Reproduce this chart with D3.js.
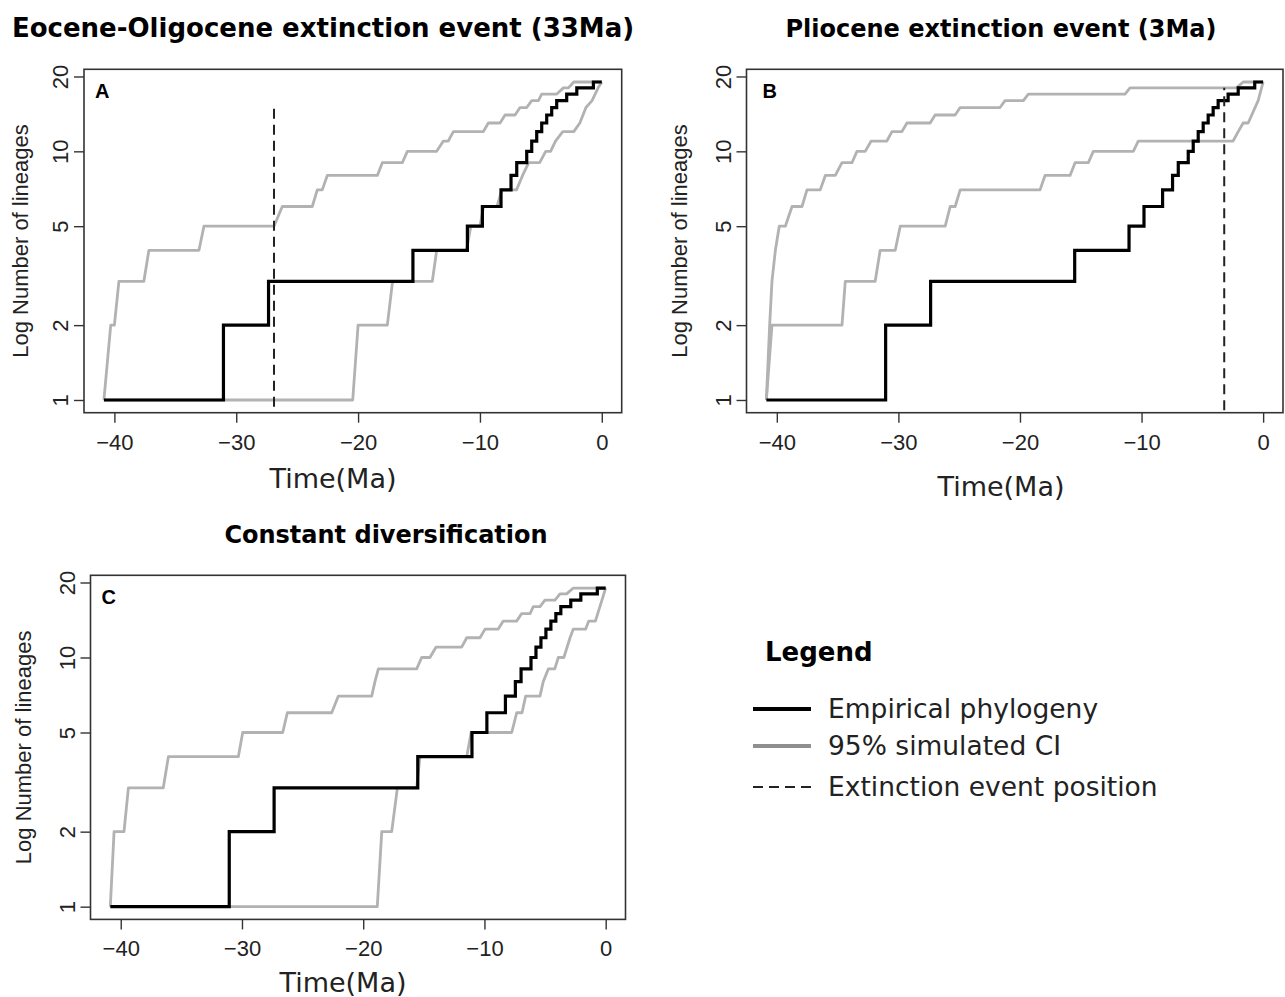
<!DOCTYPE html>
<html>
<head>
<meta charset="utf-8">
<script src="https://cdn.jsdelivr.net/npm/d3@7/dist/d3.min.js"></script>
<style>
  body { margin: 0; background: #fff; }
  svg { display: block; }
</style>
</head>
<body>
<svg id="chart" width="1285" height="997"></svg>
<script>
const W = 1285;
const H = 997;

// empirical lineage-through-time steps (same tree in every panel)
const empTimes = [-40.86, -31.05, -27.35, -15.5, -11.03, -9.8, -8.27, -7.45, -6.98, -6.16,
  -5.75, -5.34, -4.93, -4.52, -4.11, -3.7, -2.88, -2.05, -0.69, 0];
const empCounts = [1, 2, 3, 4, 5, 6, 7, 8, 9, 10, 11, 12, 13, 14, 15, 16, 17, 18, 19, 19];

// 95% simulated CI, [time, lineages]
const upperA = [[-40.86, 1], [-40.3, 2], [-40.0, 2], [-39.63, 3], [-37.58, 3], [-37.17, 4], [-33.06, 4], [-32.65, 5],
  [-26.9, 5], [-26.22, 6], [-23.76, 6], [-23.35, 7], [-22.94, 7], [-22.53, 8], [-18.42, 8], [-18.01, 9],
  [-16.37, 9], [-15.96, 10], [-13.55, 10], [-13.0, 11], [-12.6, 11], [-12.18, 12], [-9.72, 12], [-9.31, 13],
  [-8.35, 13], [-7.94, 14], [-7.12, 14], [-6.71, 15], [-6.16, 15], [-5.75, 16], [-5.2, 16], [-4.93, 17],
  [-3.69, 17], [-3.15, 18], [-2.74, 18], [-2.3, 19], [0, 19]];
const lowerA = [[-40.86, 1], [-20.44, 1], [-20.0, 2], [-17.6, 2], [-17.17, 3], [-13.91, 3], [-13.55, 4], [-11.1, 4],
  [-10.75, 5], [-10.0, 5], [-9.7, 6], [-8.6, 6], [-8.2, 7], [-7.0, 7], [-6.5, 8], [-6.0, 9], [-5.1, 9],
  [-4.6, 10], [-4.2, 10], [-3.8, 11], [-3.2, 12], [-2.3, 12], [-1.8, 13], [-1.3, 15], [-0.8, 16],
  [-0.3, 18], [0, 19]];

const upperB = [[-40.86, 1], [-40.59, 2], [-40.4, 3], [-40.12, 4], [-39.8, 5], [-39.3, 5], [-38.75, 6], [-37.93, 6],
  [-37.52, 7], [-36.43, 7], [-36.01, 8], [-35.19, 8], [-34.64, 9], [-33.82, 9], [-33.41, 10], [-32.73, 10],
  [-32.24, 11], [-30.95, 11], [-30.53, 12], [-29.71, 12], [-29.3, 13], [-27.39, 13], [-26.98, 14], [-25.33, 14],
  [-24.92, 15], [-21.64, 15], [-21.23, 16], [-19.72, 16], [-19.31, 17], [-11.36, 17], [-10.95, 18], [-2.19, 18],
  [-1.64, 19], [0, 19]];
const lowerB = [[-40.86, 1], [-40.4, 2], [-34.64, 2], [-34.37, 3], [-31.91, 3], [-31.5, 4], [-30.26, 4], [-29.85, 5],
  [-26.15, 5], [-25.74, 6], [-25.33, 6], [-24.92, 7], [-18.35, 7], [-17.94, 8], [-15.88, 8], [-15.47, 9],
  [-14.38, 9], [-13.97, 10], [-10.68, 10], [-10.27, 11], [-2.47, 11], [-2.05, 12], [-1.64, 13], [-1.23, 13],
  [-0.41, 16], [0, 19]];

const upperC = [[-40.86, 1], [-40.55, 2], [-39.73, 2], [-39.37, 3], [-36.49, 3], [-36.07, 4], [-30.3, 4], [-29.94, 5],
  [-26.64, 5], [-26.26, 6], [-22.6, 6], [-22.05, 7], [-19.3, 7], [-19.03, 8], [-18.75, 9], [-15.59, 9],
  [-15.18, 10], [-14.5, 10], [-14.0, 11], [-11.88, 11], [-11.46, 12], [-10.37, 12], [-9.95, 13], [-8.86, 13],
  [-8.45, 14], [-7.35, 14], [-6.93, 15], [-6.24, 15], [-5.97, 16], [-5.42, 16], [-5.01, 17], [-4.18, 17],
  [-3.77, 18], [-3.22, 18], [-2.67, 19], [0, 19]];
const lowerC = [[-40.86, 1], [-18.84, 1], [-18.47, 2], [-17.65, 2], [-17.18, 3], [-15.59, 3], [-15.32, 4], [-11.46, 4],
  [-11.1, 5], [-7.75, 5], [-7.34, 6], [-6.9, 6], [-6.6, 7], [-5.42, 7], [-5.15, 8], [-4.73, 9], [-4.2, 9],
  [-3.91, 10], [-3.45, 10], [-2.94, 12], [-2.67, 13], [-1.65, 13], [-1.4, 14], [-0.85, 14], [0, 19]];

// extinction event markers: [time, bottom, top]
const eventA = [-26.9, 0.94, 15.4];
const eventB = [-3.2, 0.91, 18];

const xTicks = [-40, -30, -20, -10, 0];
const yTicks = [1, 2, 5, 10, 20];

const titles = ['Eocene-Oligocene extinction event (33Ma)', 'Pliocene extinction event (3Ma)', 'Constant diversification'];
const legendLabels = ['Empirical phylogeny', '95% simulated CI', 'Extinction event position'];

const sansR = "'Liberation Sans', Arial, sans-serif";
const sansV = "'DejaVu Sans', Verdana, sans-serif";

const panels = [
  { tag: 'A', title: titles[0], titleSize: 26, upper: upperA, lower: lowerA, event: eventA,
    box: [84, 69.3, 621.7, 412.7], titleX: 323, titleY: 37, xlabX: 333, xlabY: 488, ylabX: 28, tagDx: 11 },
  { tag: 'B', title: titles[1], titleSize: 24, upper: upperB, lower: lowerB, event: eventB,
    box: [746.5, 69.3, 1283, 412.7], titleX: 1001, titleY: 37, xlabX: 1001, xlabY: 496, ylabX: 687, tagDx: 16 },
  { tag: 'C', title: titles[2], titleSize: 24, upper: upperC, lower: lowerC, event: null,
    box: [90.5, 575.3, 625.5, 919.4], titleX: 386, titleY: 543, xlabX: 343, xlabY: 992, ylabX: 31, tagDx: 11 }
];

const svg = d3.select('#chart');
svg.append('rect').attr('width', W).attr('height', H).attr('fill', '#fff');

const tMin = d3.min(empTimes), tMax = d3.max(empTimes);
const nMax = d3.max(empCounts);
const padX = (tMax - tMin) * 0.04;
const padY = Math.log10(nMax) * 0.04;

const grey = '#b2b2b2';

panels.forEach(p => {
  const [l, t, r, b] = p.box;
  const x = d3.scaleLinear().domain([tMin - padX, tMax + padX]).range([l, r]);
  const y = d3.scaleLog().domain([Math.pow(10, -padY), Math.pow(10, Math.log10(nMax) + padY)]).range([b, t]);

  const g = svg.append('g');

  // title
  g.append('text')
    .attr('x', p.titleX).attr('y', p.titleY)
    .attr('text-anchor', 'middle')
    .style('font-family', sansV)
    .style('font-weight', 'bold')
    .style('font-size', p.titleSize + 'px')
    .text(p.title);

  // axes
  const xAxis = g.append('g').attr('transform', `translate(0, ${b})`)
    .call(d3.axisBottom(x).tickValues(xTicks).tickSize(10).tickPadding(0).tickSizeOuter(0));
  xAxis.select('.domain').remove();
  xAxis.selectAll('line').attr('stroke', '#333').attr('stroke-width', 1.4);
  xAxis.selectAll('text')
    .attr('y', 37).attr('dy', 0)
    .attr('fill', '#222')
    .style('font-family', sansR)
    .style('font-size', '22px');

  const yAxis = g.append('g').attr('transform', `translate(${l}, 0)`)
    .call(d3.axisLeft(y).tickValues(yTicks).tickFormat(d3.format('d')).tickSize(10).tickSizeOuter(0));
  yAxis.select('.domain').remove();
  yAxis.selectAll('line').attr('stroke', '#333').attr('stroke-width', 1.4);
  yAxis.selectAll('text')
    .attr('x', 0).attr('dy', 0)
    .attr('text-anchor', 'middle')
    .attr('transform', 'translate(-16, 0) rotate(-90)')
    .attr('fill', '#222')
    .style('font-family', sansR)
    .style('font-size', '22px');

  // axis titles
  g.append('text')
    .attr('x', p.xlabX).attr('y', p.xlabY)
    .attr('text-anchor', 'middle')
    .attr('fill', '#222')
    .style('font-family', sansV)
    .style('font-size', '27px')
    .text('Time(Ma)');

  g.append('text')
    .attr('transform', `translate(${p.ylabX}, ${(t + b) / 2}) rotate(-90)`)
    .attr('text-anchor', 'middle')
    .attr('fill', '#222')
    .style('font-family', sansR)
    .style('font-size', '22px')
    .text('Log Number of lineages');

  // CI lines
  const ciLine = d3.line().x(d => x(d[0])).y(d => y(d[1]));
  [p.upper, p.lower].forEach(s => {
    g.append('path').datum(s)
      .attr('d', ciLine)
      .attr('fill', 'none')
      .attr('stroke', grey)
      .attr('stroke-width', 2.8)
      .attr('stroke-linejoin', 'round');
  });

  // empirical
  const emp = empTimes.map((d, i) => [d, empCounts[i]]);
  g.append('path').datum(emp)
    .attr('d', d3.line().x(d => x(d[0])).y(d => y(d[1])).curve(d3.curveStepAfter))
    .attr('fill', 'none')
    .attr('stroke', '#000')
    .attr('stroke-width', 3.2);

  // extinction event
  if (p.event) {
    g.append('line')
      .attr('x1', x(p.event[0])).attr('x2', x(p.event[0]))
      .attr('y1', y(p.event[1])).attr('y2', y(p.event[2]))
      .attr('stroke', '#222')
      .attr('stroke-width', 2)
      .attr('stroke-dasharray', '10,6');
  }

  // frame
  g.append('rect')
    .attr('x', l).attr('y', t).attr('width', r - l).attr('height', b - t)
    .attr('fill', 'none')
    .attr('stroke', '#333')
    .attr('stroke-width', 1.6);

  // panel tag
  g.append('text')
    .attr('x', l + p.tagDx).attr('y', t + 29)
    .style('font-family', sansR)
    .style('font-weight', 'bold')
    .style('font-size', '20px')
    .text(p.tag);
});

// legend
const legend = svg.append('g').attr('transform', 'translate(753, 0)');
legend.append('text')
  .attr('x', 12).attr('y', 661)
  .style('font-family', sansV)
  .style('font-weight', 'bold')
  .style('font-size', '26px')
  .text('Legend');

const legendStyles = [
  { stroke: '#000', width: 4, dash: null },
  { stroke: '#8f8f8f', width: 4, dash: null },
  { stroke: '#222', width: 2, dash: '10,6' }
];
const legendRows = [709, 746, 787];

legendLabels.forEach((lab, i) => {
  const s = legendStyles[i];
  legend.append('line')
    .attr('x1', 0).attr('x2', 58)
    .attr('y1', legendRows[i]).attr('y2', legendRows[i])
    .attr('stroke', s.stroke)
    .attr('stroke-width', s.width)
    .attr('stroke-dasharray', s.dash);
  legend.append('text')
    .attr('x', 75).attr('y', legendRows[i] + 9)
    .attr('fill', '#222')
    .style('font-family', sansV)
    .style('font-size', '26.5px')
    .text(lab);
});
</script>
</body>
</html>
